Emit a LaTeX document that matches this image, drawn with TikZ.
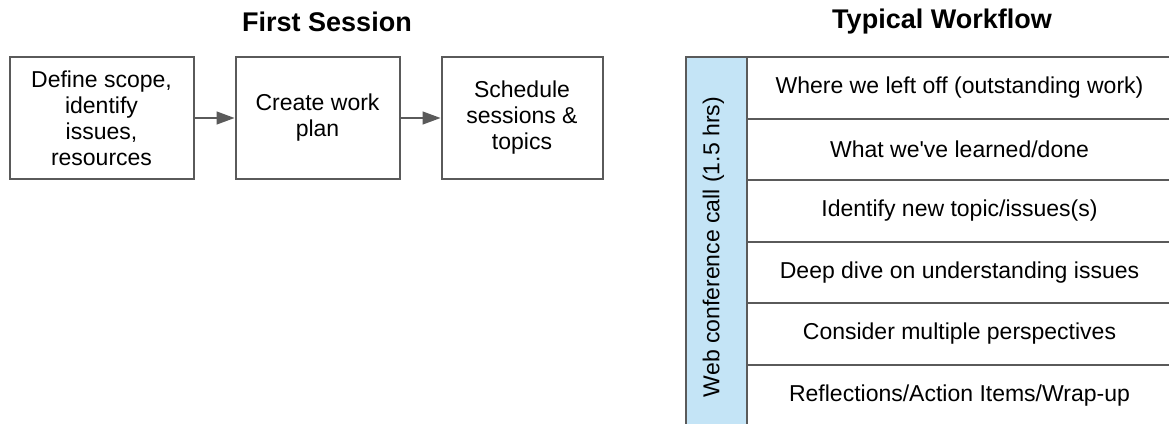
\documentclass[tikz,border=0pt]{standalone}
\usepackage{fontspec}
\setmainfont{Liberation Sans}
\usepackage{tikz}
\usetikzlibrary{arrows.meta,positioning}

\definecolor{linegray}{HTML}{5A5A5A}
\definecolor{laneblue}{HTML}{C4E4F6}

\begin{document}
\begin{tikzpicture}[
    x=1pt, y=-1pt,
    node distance=40pt,
    title/.style={font=\fontsize{27}{32}\selectfont\bfseries},
    stepbox/.style={rectangle, draw=linegray, line width=2pt, minimum height=122pt, align=center, font=\fontsize{23}{26}\selectfont},
    lane/.style={rectangle, draw=linegray, line width=2pt, fill=laneblue, outer sep=0pt},
    row/.style={rectangle, draw=linegray, line width=2pt, minimum width=425pt, minimum height=61.5pt, outer sep=0pt, font=\fontsize{23}{26}\selectfont},
    arrow/.style={-{Triangle[length=18pt,width=13pt]}, draw=linegray, fill=linegray, line width=1.5pt}
]
\useasboundingbox (0,0) rectangle (1169,423);
\clip (0,0) rectangle (1169,423);

% Titles
\node [title] (firsttitle) at (327,22) {First Session};
\node [title] (flowtitle) at (942,22) {Typical Workflow};

% First session steps
\node [stepbox, minimum width=184pt] (scope) at (101.5,118) {Define scope,\\identify\\issues,\\resources};
\node [stepbox, minimum width=164pt, right=of scope] (plan) {Create work\\plan};
\node [stepbox, minimum width=161pt, right=of plan] (sched) {Schedule\\sessions \&\\topics};

% Arrows
\draw [arrow] (scope) -- (plan);
\draw [arrow] (plan) -- (sched);

% Workflow lane and its rows
\node [lane, minimum width=61pt, minimum height=380pt, anchor=north west] (lane) at (686,57) {};
\node [rotate=90, font=\fontsize{23}{26}\selectfont] (lanetext) at (713.5,247) {Web conference call (1.5 hrs)};

\node [row, anchor=north west] (leftoff) at (747,57) {Where we left off (outstanding work)};
\node [row, below=0pt of leftoff] (learned) {What we\textquotesingle ve learned/done};
\node [row, below=0pt of learned] (newtopic) {Identify new topic/issues(s)};
\node [row, below=0pt of newtopic] (deepdive) {Deep dive on understanding issues};
\node [row, below=0pt of deepdive] (perspect) {Consider multiple perspectives};
\node [row, below=0pt of perspect] (wrapup) {Reflections/Action Items/Wrap-up};

\end{tikzpicture}
\end{document}
